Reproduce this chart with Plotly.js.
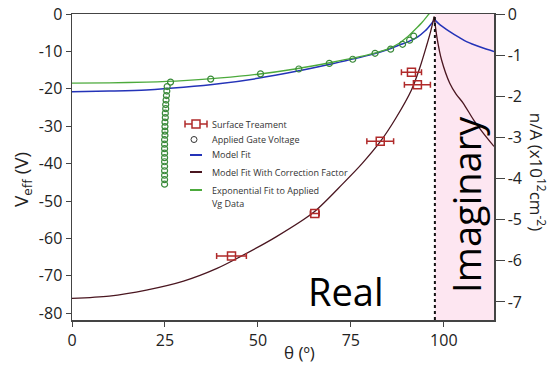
<!DOCTYPE html>
<html>
<head>
<meta charset="utf-8">
<script src="https://cdn.plot.ly/plotly-3.0.1.min.js"></script>
<style>html,body{margin:0;padding:0;background:#fff;}#chart{width:550px;height:368px;}</style>
</head>
<body>
<div id="chart"></div>
<script>
// Surface treatment (with horizontal error bars)
var stTheta = [42.9, 65.3, 82.9, 91.3, 92.9];
var stVeff  = [-64.7, -53.3, -34.0, -15.6, -18.9];
var stErr   = [4.0, 1.2, 3.6, 2.7, 3.5];

// Applied gate voltage
var vgTheta = [25.6, 25.5, 25.4, 25.3, 25.2, 25.2, 25.1, 25.1, 25.0, 25.0, 25.0, 25.0, 24.9, 24.9, 24.9, 24.9, 24.9, 24.9, 24.9, 24.9, 24.9, 24.9, 24.9,
               26.5, 37.3, 50.7, 61.0, 69.2, 75.5, 81.5, 85.7, 88.9, 90.8, 91.9];
var vgVeff  = [-19.4, -20.6, -21.8, -23.0, -24.2, -25.3, -26.5, -27.7, -28.9, -30.1, -31.3, -32.4, -33.6, -34.8, -36.0, -37.2, -38.4, -39.5, -40.7, -41.9, -43.1, -44.3, -45.5,
               -18.2, -17.4, -16.0, -14.7, -13.2, -12.1, -10.5, -9.4, -8.1, -7.0, -5.9];

// Model fit (real branch, imaginary branch)
var mfThetaReal = [0, 10, 20, 30, 40, 50, 60, 70, 80, 85, 88, 90, 93, 95, 96.5, 97.5];
var mfVeffReal  = [-20.8, -20.6, -20.3, -19.6, -18.6, -17.2, -15.4, -13.3, -11.0, -9.5, -8.3, -7.6, -6.1, -4.5, -2.8, -1.5];
var mfThetaImag = [97.5, 99, 101.6, 104, 106.1, 110, 113.5];
var mfVeffImag  = [-1.5, -2.9, -4.7, -6.2, -7.4, -8.9, -10.0];

// Model fit with correction factor (real branch, imaginary branch)
var mcThetaReal = [0, 10, 20, 30, 39, 45, 55, 65, 73, 78, 83, 87, 91.3, 93.5, 95.3, 96.5, 97.4];
var mcVeffReal  = [-76.0, -75.4, -73.8, -71.4, -68.0, -65.0, -59.5, -53.0, -45.2, -40.0, -34.0, -28.0, -20.3, -14.5, -8.7, -4.5, -0.7];
var mcThetaImag = [97.4, 98.2, 99.4, 101.6, 103.3, 105.2, 108, 110.5, 113.5];
var mcVeffImag  = [-0.7, -6.5, -12.3, -18.5, -21.4, -23.8, -28.3, -31.7, -35.4];

// Exponential fit to applied Vg data
var efTheta = [0, 10, 20, 30, 40, 50, 60, 70, 80, 85, 88, 90, 92, 94, 96, 97];
var efVeff  = [-18.5, -18.4, -18.2, -17.8, -17.1, -16.1, -14.7, -12.9, -10.8, -9.3, -7.8, -6.3, -4.4, -2.4, 0.0, 1.2];

// Axis ticks
var xTicks = [0, 25, 50, 75, 100];
var xTickText = ['0', '25', '50', '75', '100'];
var yTicks = [0, -10, -20, -30, -40, -50, -60, -70, -80];
var yTickText = ['0', '-10', '-20', '-30', '-40', '-50', '-60', '-70', '-80'];
var y2Ticks = [0, -1, -2, -3, -4, -5, -6, -7];
var y2TickText = ['0', '-1', '-2', '-3', '-4', '-5', '-6', '-7'];

// Legend labels
var legendLabels = ['Surface Treament', 'Applied Gate Voltage', 'Model Fit', 'Model Fit With Correction Factor',
                    'Exponential Fit to Applied', 'Vg Data'];

var realBoundary = 97.6;
var xMax = 113.5;

var cBlue = '#2433b8', cMaroon = '#4a1620', cGreen = '#4caa3c', cCircle = '#3a8a3a', cRed = '#b02a2a';

var traces = [
  {x: mfThetaReal, y: mfVeffReal, type: 'scatter', mode: 'lines', line: {color: cBlue, width: 1.5, shape: 'spline', smoothing: 0.8}},
  {x: mfThetaImag, y: mfVeffImag, type: 'scatter', mode: 'lines', line: {color: cBlue, width: 1.5, shape: 'spline', smoothing: 0.8}},
  {x: mcThetaReal, y: mcVeffReal, type: 'scatter', mode: 'lines', line: {color: cMaroon, width: 1.3, shape: 'spline', smoothing: 0.8}},
  {x: mcThetaImag, y: mcVeffImag, type: 'scatter', mode: 'lines', line: {color: cMaroon, width: 1.3, shape: 'spline', smoothing: 0.8}},
  {x: efTheta, y: efVeff, type: 'scatter', mode: 'lines', line: {color: cGreen, width: 1.3, shape: 'spline', smoothing: 0.8}},
  {x: vgTheta, y: vgVeff, type: 'scatter', mode: 'markers',
   marker: {symbol: 'circle-open', size: 6, color: cCircle, line: {width: 1.2}}},
  {x: stTheta, y: stVeff, type: 'scatter', mode: 'markers',
   marker: {symbol: 'square-open', size: 8, color: cRed, line: {width: 1.5}},
   error_x: {type: 'data', array: stErr, visible: true, color: cRed, thickness: 1.5, width: 3}},
  {x: [null], y: [null], yaxis: 'y2', type: 'scatter', mode: 'markers', hoverinfo: 'skip'}
];

// pixel -> paper helpers (plot area 72..494 x 14..320)
function px(p) { return (p - 72) / 422; }
function py(p) { return 1 - (p - 14) / 306; }

var axisFont = {family: 'Open Sans, sans-serif', size: 16, color: '#222'};
var legFont = {family: 'Open Sans, sans-serif', size: 9, color: '#333'};

var shapes = [
  {type: 'rect', xref: 'x', yref: 'paper', x0: realBoundary, x1: xMax, y0: 0, y1: 1,
   fillcolor: '#fde6f1', line: {width: 0}, layer: 'below'},
  {type: 'line', xref: 'x', yref: 'paper', x0: realBoundary, x1: realBoundary, y0: 0, y1: 1,
   line: {color: '#111', width: 2, dash: 'dot'}, layer: 'above'},
  // legend symbols
  {type: 'line', xref: 'paper', yref: 'paper', x0: px(185), x1: px(207), y0: py(124), y1: py(124), line: {color: cRed, width: 1.5}},
  {type: 'line', xref: 'paper', yref: 'paper', x0: px(185), x1: px(185), y0: py(120.5), y1: py(127.5), line: {color: cRed, width: 1.5}},
  {type: 'line', xref: 'paper', yref: 'paper', x0: px(207), x1: px(207), y0: py(120.5), y1: py(127.5), line: {color: cRed, width: 1.5}},
  {type: 'rect', xref: 'paper', yref: 'paper', x0: px(192), x1: px(200), y0: py(120), y1: py(128), fillcolor: '#fff', line: {color: cRed, width: 1.5}},
  {type: 'circle', xref: 'paper', yref: 'paper', x0: px(191), x1: px(197), y0: py(136.5), y1: py(142.5), line: {color: '#333', width: 1}},
  {type: 'line', xref: 'paper', yref: 'paper', x0: px(190), x1: px(202), y0: py(155), y1: py(155), line: {color: cBlue, width: 2}},
  {type: 'line', xref: 'paper', yref: 'paper', x0: px(190), x1: px(202), y0: py(172), y1: py(172), line: {color: cMaroon, width: 2}},
  {type: 'line', xref: 'paper', yref: 'paper', x0: px(190), x1: px(202), y0: py(190), y1: py(190), line: {color: cGreen, width: 2}}
];

var legY = [124, 139.5, 155, 172, 190, 203];
var annotations = [
  {text: 'Real', xref: 'x', yref: 'y', x: 73.7, y: -74.1, showarrow: false,
   font: {size: 38, color: '#000'}},
  {text: 'Imaginary', xref: 'x', yref: 'y', x: 106, y: -51, textangle: -90, showarrow: false,
   font: {size: 38, color: '#000'}},
  {text: 'θ (º)', xref: 'paper', yref: 'paper', x: 0.54, y: -0.105, showarrow: false,
   xanchor: 'center', yanchor: 'middle', font: {size: 17, color: '#222'}},
  {text: 'V<sub>eff</sub> (V)', xref: 'paper', yref: 'paper', x: -0.118, y: 0.458, textangle: -90,
   showarrow: false, xanchor: 'center', yanchor: 'middle', font: {size: 19, color: '#222'}},
  {text: 'n/A (x10<sup>12</sup>cm<sup>-2</sup>)', xref: 'paper', yref: 'paper', x: 1.102, y: 0.484,
   textangle: 90, showarrow: false, xanchor: 'center', yanchor: 'middle', font: {size: 17, color: '#222'}}
];
legendLabels.forEach(function (t, i) {
  annotations.push({text: t, xref: 'paper', yref: 'paper', x: px(210), y: py(legY[i]), xanchor: 'left',
                    yanchor: 'middle', showarrow: false, font: legFont});
});

var layout = {
  width: 550, height: 368,
  margin: {l: 72, r: 56, t: 14, b: 48},
  paper_bgcolor: '#fff', plot_bgcolor: 'rgba(0,0,0,0)',
  font: {family: 'Open Sans, sans-serif', color: '#222'},
  showlegend: false,
  xaxis: {range: [0, xMax], tickvals: xTicks, ticktext: xTickText, ticks: 'outside', ticklen: 5,
          tickcolor: '#444', showline: true, linecolor: '#444', linewidth: 1.5, mirror: true,
          showgrid: false, zeroline: false, tickfont: axisFont},
  yaxis: {range: [-81.8, 0], tickvals: yTicks, ticktext: yTickText, ticks: 'outside', ticklen: 5,
          tickcolor: '#444', showline: true, linecolor: '#444', linewidth: 1.5,
          showgrid: false, zeroline: false, tickfont: axisFont},
  yaxis2: {range: [-7.44, 0], overlaying: 'y', side: 'right', tickvals: y2Ticks, ticktext: y2TickText,
           ticks: 'outside', ticklen: 9, tickcolor: '#444', showline: true, linecolor: '#444', linewidth: 1.5,
           showgrid: false, zeroline: false, tickfont: axisFont},
  shapes: shapes,
  annotations: annotations
};

Plotly.newPlot('chart', traces, layout, {displayModeBar: false, staticPlot: true});
</script>
</body>
</html>
